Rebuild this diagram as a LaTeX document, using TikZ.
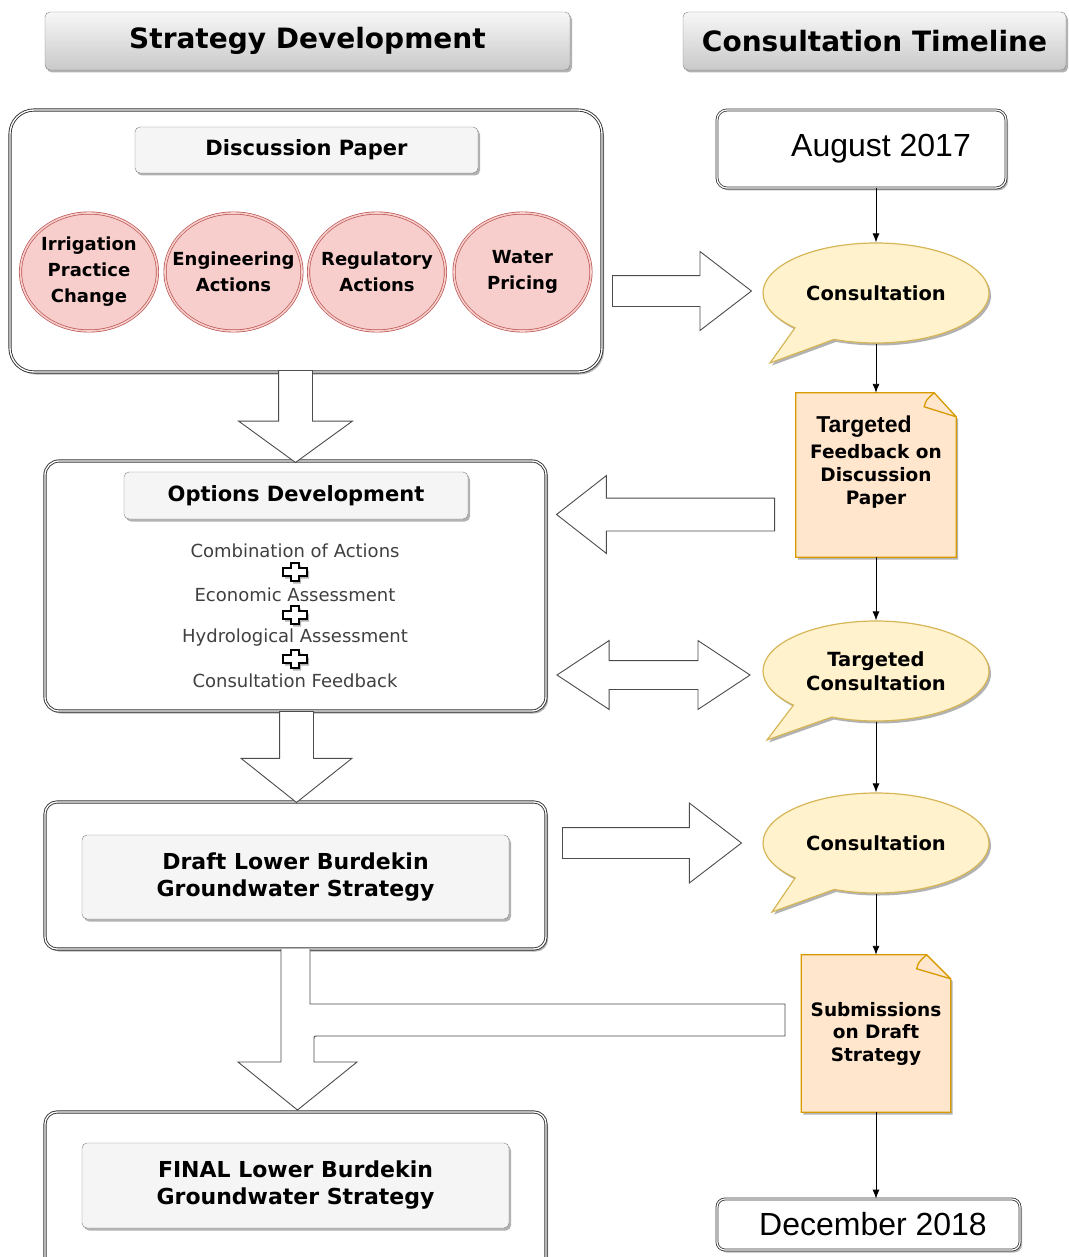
\documentclass[tikz,border=0pt]{standalone}
\usepackage{fontspec}
\setmainfont{DejaVu Sans}
\newfontfamily\arialfont{Liberation Sans}
\usepackage{tikz}
\usetikzlibrary{arrows.meta, calc, positioning, shadows, shapes.geometric, shapes.arrows, shapes.callouts}
\definecolor{hdrtop}{HTML}{F7F7F7}
\definecolor{hdrbot}{HTML}{C9C9C9}
\definecolor{lblgray}{HTML}{F5F5F5}
\definecolor{pinkfill}{HTML}{F8CECC}
\definecolor{pinkline}{HTML}{B85450}
\definecolor{bubfill}{HTML}{FFF2CC}
\definecolor{bubline}{HTML}{D6B656}
\definecolor{notefill}{HTML}{FFE6CC}
\definecolor{noteline}{HTML}{D79B00}
\definecolor{textgray}{HTML}{404040}

\tikzset{
  softshadow/.style={drop shadow={shadow xshift=2pt, shadow yshift=-2.5pt, opacity=0.3, fill=black}},
  header/.style={draw=black!50, rounded corners=5pt, top color=hdrtop, bottom color=hdrbot, softshadow, minimum height=58pt, font=\fontsize{28}{34}\selectfont\bfseries},
  bigbox/.style={draw=black!80, double=white, double distance=1.3pt, line width=0.9pt, fill=white, softshadow},
  labelbox/.style={draw=black!50, fill=lblgray, rounded corners=5pt, softshadow, align=center, inner sep=0pt, font=\fontsize{21}{27}\selectfont\bfseries},
  actionball/.style={ellipse, draw=pinkline, double=pinkfill, double distance=1.6pt, line width=0.7pt, fill=pinkfill, minimum width=137pt, minimum height=118pt, inner sep=-14pt, align=center, font=\fontsize{18}{26}\selectfont\bfseries},
  optline/.style={text=textgray, inner sep=0pt, font=\fontsize{18}{22}\selectfont},
  plusmark/.style={draw=black, fill=white, line width=1.6pt, softshadow},
  datebox/.style={draw=black!80, double=white, double distance=1.2pt, line width=0.8pt, rounded corners=10pt, fill=white, softshadow, font=\arialfont\fontsize{32}{38}\selectfont},
  bubble/.style={ellipse callout, draw=bubline, fill=bubfill, line width=1.2pt, minimum width=226pt, minimum height=100pt, inner sep=0pt, align=center, callout pointer arc=24, softshadow, font=\fontsize{19.5}{24}\selectfont\bfseries},
  notebox/.style={inner sep=0pt},
  paper/.style={draw=noteline, fill=notefill, line width=1.3pt},
  notetext/.style={align=center, inner sep=0pt, font=\fontsize{18.5}{23}\selectfont\bfseries},
  blockarrow/.style={single arrow, draw=black!70, fill=white, line width=0.9pt, inner xsep=0pt, single arrow head indent=0pt},
  flowarrow/.style={-{Latex[length=9pt, width=7pt]}, line width=0.9pt}
}

\begin{document}
\begin{tikzpicture}[x=1pt, y=-1pt]
	\useasboundingbox (0,0) rectangle (1068,1257);
	% column headers
	\node[header, minimum width=525pt] (hdrleft) at (307.5,41) {Strategy Development};
	\node[header, minimum width=383pt] (hdrright) at (874.5,41) {Consultation Timeline};

	% strategy development column
	\node[bigbox, rounded corners=24pt, minimum width=592pt, minimum height=262pt] (disc) at (306,241) {};
	\node[labelbox, minimum width=343pt, minimum height=46pt] (disctag) at (306.5,150) {Discussion Paper};
	\foreach \name/\xx/\txt in {irr/89/{Irrigation\\Practice\\Change}, eng/233.5/{Engineering\\Actions}, reg/377/{Regulatory\\Actions}, wat/522.5/{Water\\Pricing}}
		\node[actionball] (\name) at (\xx,272) {\txt};

	\node[bigbox, rounded corners=14pt, minimum width=501pt, minimum height=250pt] (opt) at (295.5,586) {};
	\node[labelbox, minimum width=344pt, minimum height=47pt] (opttag) at (296,495.5) {Options Development};
	\foreach \txt/\yy [count=\k] in {Combination of Actions/551, Economic Assessment/595, Hydrological Assessment/638, Consultation Feedback/681}
		\node[optline] (optitem\k) at (295,\yy) {\txt};
	\foreach \yy in {572,615,659}
		\filldraw[plusmark] (295,\yy) ++(-4,-9) -- ++(8,0) -- ++(0,5) -- ++(8,0) -- ++(0,8) -- ++(-8,0) -- ++(0,5) -- ++(-8,0) -- ++(0,-5) -- ++(-8,0) -- ++(0,-8) -- ++(8,0) -- cycle;

	\node[bigbox, rounded corners=12pt, minimum width=501pt, minimum height=147pt] (draft) at (295.5,875.5) {};
	\node[labelbox, minimum width=427pt, minimum height=84pt, font=\fontsize{22}{27}\selectfont\bfseries] (drafttag) at (295.5,877) {Draft Lower Burdekin\\Groundwater Strategy};

	\node[bigbox, rounded corners=12pt, minimum width=501pt, minimum height=163pt] (final) at (295.5,1193.5) {};
	\node[labelbox, minimum width=427pt, minimum height=85pt, font=\fontsize{22}{27}\selectfont\bfseries] (finaltag) at (295.5,1185.5) {FINAL Lower Burdekin\\Groundwater Strategy};

	% consultation timeline column
	\node[datebox, minimum width=289pt, minimum height=78pt] (aug) at (861.5,149) {\hspace*{39pt}August 2017};
	\node[bubble, callout absolute pointer={(770,363)}] (cons1) at (876,293) {Consultation};

	\node[notebox, minimum width=160pt, minimum height=164pt] (fbnote) at (876,475) {};
	\filldraw[paper, softshadow] (fbnote.north west) -- ([xshift=-22pt]fbnote.north east) -- ([yshift=-24pt]fbnote.north east) -- (fbnote.south east) -- (fbnote.south west) -- cycle;
	\draw[paper, fill=none] ([xshift=-22pt]fbnote.north east) .. controls ([xshift=-30pt,yshift=-7pt]fbnote.north east) .. ([xshift=-32pt,yshift=-14pt]fbnote.north east) -- ([yshift=-24pt]fbnote.north east);
	\node[notetext] (fbtext) at ([yshift=13pt]fbnote.center) {\hspace*{-24pt}{\arialfont\bfseries\fontsize{23}{28}\selectfont Targeted}\\[3pt]Feedback on\\Discussion\\Paper};

	\node[bubble, callout absolute pointer={(767,740)}] (cons2) at (876,671) {Targeted\\Consultation};
	\node[bubble, callout absolute pointer={(772,912)}] (cons3) at (876,843) {Consultation};

	\node[notebox, minimum width=149pt, minimum height=157pt] (subnote) at (876,1033.5) {};
	\filldraw[paper, softshadow] (subnote.north west) -- ([xshift=-24pt]subnote.north east) -- ([yshift=-24pt]subnote.north east) -- (subnote.south east) -- (subnote.south west) -- cycle;
	\draw[paper, fill=none] ([xshift=-24pt]subnote.north east) .. controls ([xshift=-32pt,yshift=-7pt]subnote.north east) .. ([xshift=-34pt,yshift=-14pt]subnote.north east) -- ([yshift=-24pt]subnote.north east);
	\node[notetext, font=\fontsize{18.5}{22.5}\selectfont\bfseries] (subtext) at (subnote.center) {Submissions\\on Draft\\Strategy};

	\node[datebox, rounded corners=8pt, minimum width=303pt, minimum height=51pt] (dec) at (868.5,1224.5) {\hspace*{9pt}December 2018};

	% timeline connectors
	\draw[flowarrow] (aug.south -| cons1) -- (cons1.north);
	\draw[flowarrow] (cons1.south) -- (fbnote.north);
	\draw[flowarrow] (fbnote.south) -- (cons2.north);
	\draw[flowarrow] (cons2.south) -- (cons3.north);
	\draw[flowarrow] (cons3.south) -- (subnote.north);
	\draw[flowarrow] (subnote.south) -- (dec.north -| subnote);

	% block arrows
	\node[blockarrow, anchor=tail, inner ysep=15pt, single arrow head extend=24pt, single arrow tip angle=75, minimum height=139pt] (toconsult) at (612,291) {};
	\node[blockarrow, anchor=tail, rotate=-90, inner ysep=16.5pt, single arrow head extend=40pt, single arrow tip angle=108, minimum height=92pt] (tooptions) at (295.5,370) {};
	\node[blockarrow, anchor=tail, rotate=180, inner ysep=16pt, single arrow head extend=22.5pt, single arrow tip angle=76, minimum height=218pt] (fromfeedback) at (775,514.5) {};
	\node[blockarrow, double arrow, inner ysep=14pt, double arrow head extend=20pt, double arrow tip angle=67, double arrow head indent=0pt, minimum height=193pt] (exchange) at (653.5,675) {};
	\node[blockarrow, anchor=tail, rotate=-90, inner ysep=16.5pt, single arrow head extend=38.5pt, single arrow tip angle=103, minimum height=91pt] (todraft) at (296.5,711) {};
	\node[blockarrow, anchor=tail, inner ysep=15pt, single arrow head extend=24.5pt, single arrow tip angle=75, minimum height=179pt] (todraftcons) at (562,843) {};
	% submissions merge into the final strategy
	\filldraw[draw=black!70, fill=white, line width=0.9pt] (281,949) -- (281,1062) -- (238,1062) -- (297.5,1110) -- (357,1062) -- (314,1062) -- (314,1040) .. controls (314,1036) .. (318,1036) -- (785,1036) -- (785,1004) -- (310,1004) -- (310,949);
\end{tikzpicture}
\end{document}
